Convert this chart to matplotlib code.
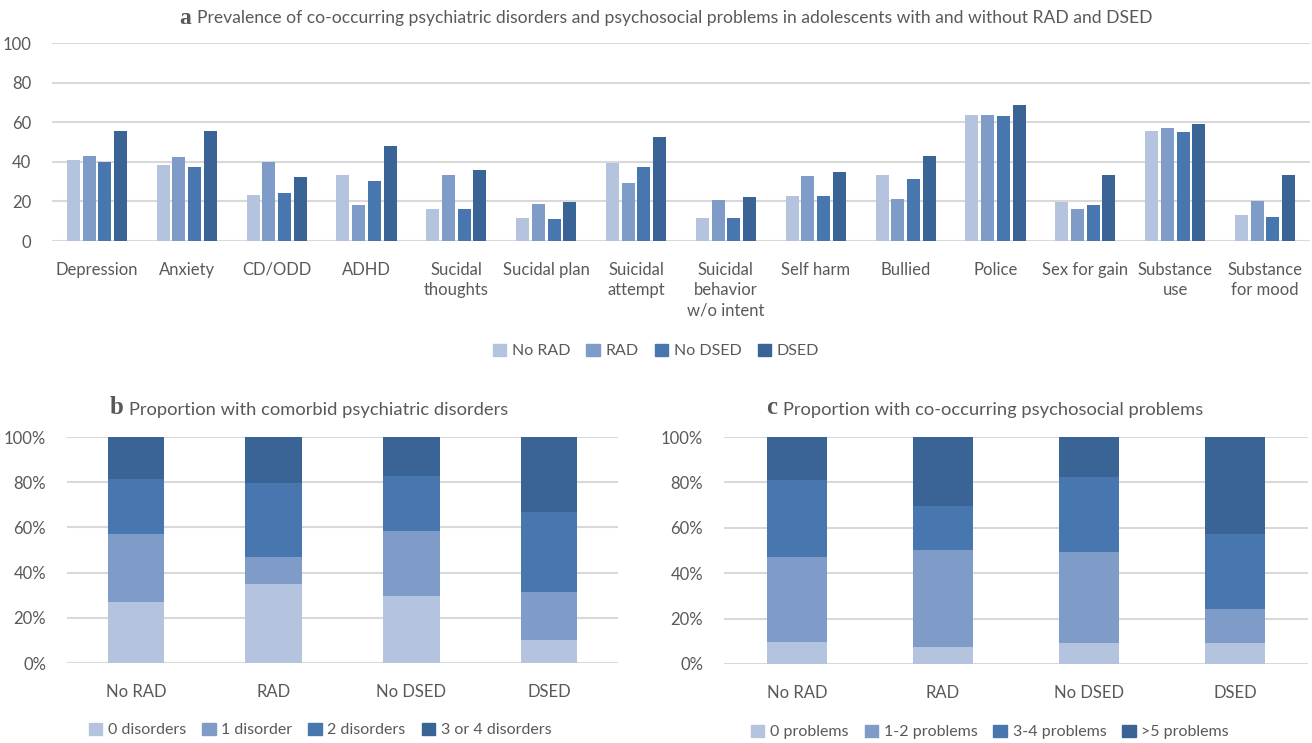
import numpy as np
import matplotlib
matplotlib.use("Agg")
import matplotlib.pyplot as plt
from matplotlib.patches import Patch
from matplotlib.offsetbox import TextArea, HPacker, AnchoredOffsetbox

plt.rcParams['font.family'] = ['Lato', 'DejaVu Sans']

# ---- data ----
groups = ['No RAD', 'RAD', 'No DSED', 'DSED']
colors = ['#B4C4DE', '#7F9CC8', '#4877B0', '#3B6496']

cats_a = ['Depression', 'Anxiety', 'CD/ODD', 'ADHD', 'Sucidal\nthoughts', 'Sucidal plan',
          'Suicidal\nattempt', 'Suicidal\nbehavior\nw/o intent', 'Self harm', 'Bullied',
          'Police', 'Sex for gain', 'Substance\nuse', 'Substance\nfor mood']
no_rad = [41.0, 38.4, 23.3, 33.4, 16.2, 11.6, 39.5, 11.6, 22.8, 33.4, 63.7, 19.7, 55.6, 13.2]
rad = [43.0, 42.5, 40.0, 18.2, 33.4, 18.7, 29.3, 20.7, 32.9, 21.2, 63.7, 16.2, 57.2, 20.2]
no_dsed = [40.0, 37.4, 24.3, 30.4, 16.2, 11.1, 37.4, 11.6, 22.8, 31.4, 63.2, 18.2, 55.1, 12.1]
dsed = [55.6, 55.6, 32.4, 48.1, 35.9, 19.7, 52.6, 22.3, 34.9, 43.0, 68.8, 33.4, 59.2, 33.4]

labels_b = ['0 disorders', '1 disorder', '2 disorders', '3 or 4 disorders']
disorders = [
    [26.9, 34.9, 29.5, 10.0],
    [30.1, 11.9, 28.8, 21.3],
    [24.4, 32.8, 24.4, 35.5],
    [18.6, 20.4, 17.3, 33.2],
]

labels_c = ['0 problems', '1-2 problems', '3-4 problems', '>5 problems']
problems = [
    [9.7, 7.5, 9.3, 9.3],
    [37.4, 42.7, 40.0, 14.9],
    [34.0, 19.4, 33.1, 33.1],
    [18.9, 30.4, 17.6, 42.7],
]

TXT = '#595959'
GRID = '#D9D9D9'

W, H = 1312, 743
fig = plt.figure(figsize=(W / 100, H / 100), dpi=100)


def px_axes(x0, y0, x1, y1):
    return fig.add_axes([x0 / W, 1 - y1 / H, (x1 - x0) / W, (y1 - y0) / H])


def style(ax):
    for s in ax.spines.values():
        s.set_visible(False)
    ax.set_axisbelow(True)
    ax.grid(axis='y', color=GRID, linewidth=1.5)
    ax.tick_params(length=0, colors=TXT, labelsize=12)


def panel_title(letter, text, cx, cy, size):
    box = HPacker(children=[
        TextArea(letter, textprops=dict(family='Liberation Serif', weight='bold',
                                        size=size * 1.35, color=TXT)),
        TextArea(text, textprops=dict(size=size, color=TXT)),
    ], align='baseline', pad=0, sep=4)
    ab = AnchoredOffsetbox(loc='center', child=box, frameon=False, pad=0,
                           bbox_to_anchor=(cx / W, 1 - cy / H),
                           bbox_transform=fig.transFigure)
    fig.add_artist(ab)


def legend(labels, cx, cy):
    fig.legend([Patch(color=c) for c in colors], labels, loc='center',
               bbox_to_anchor=(cx / W, 1 - cy / H), ncol=4, frameon=False,
               handlelength=0.85, handleheight=0.85, handletextpad=0.35,
               columnspacing=1.0, labelcolor=TXT, fontsize=11.5)


# ---- panel a ----
ax = px_axes(52, 43, 1310, 241)
style(ax)
x = np.arange(len(cats_a))
step, bw = 0.175, 0.145
for i, (vals, g) in enumerate(zip([no_rad, rad, no_dsed, dsed], groups)):
    ax.bar(x + (i - 1.5) * step, vals, bw, color=colors[i], label=g)
ax.set_xlim(-0.5, len(cats_a) - 0.5)
ax.set_ylim(0, 100)
ax.set_yticks(range(0, 101, 20))
ax.set_xticks(x)
ax.set_xticklabels(cats_a, va='top', linespacing=1.35)
ax.tick_params(axis='x', pad=15)
ax.tick_params(axis='y', pad=15)
panel_title('a', 'Prevalence of co-occurring psychiatric disorders and psychosocial problems in adolescents with and without RAD and DSED',
            666, 18, 12.6)
legend(groups, 656, 351)


def stacked(ax, data, labels):
    style(ax)
    xs = np.arange(len(groups))
    bottom = np.zeros(len(groups))
    for k, vals in enumerate(data):
        ax.bar(xs, vals, 0.41, bottom=bottom, color=colors[k], label=labels[k])
        bottom += np.array(vals)
    ax.set_xlim(-0.5, len(groups) - 0.5)
    ax.set_ylim(0, 100)
    ax.set_yticks(range(0, 101, 20))
    ax.set_yticklabels([f'{v}%' for v in range(0, 101, 20)])
    ax.set_xticks(xs)
    ax.set_xticklabels(groups)
    ax.tick_params(axis='x', pad=15)
    ax.tick_params(axis='y', pad=15)


axb = px_axes(67, 437, 618, 663)
stacked(axb, disorders, labels_b)
panel_title('b', 'Proportion with comorbid psychiatric disorders', 309, 408, 13.2)
legend(labels_b, 320, 730)

axc = px_axes(724, 437, 1308, 664)
stacked(axc, problems, labels_c)
panel_title('c', 'Proportion with co-occurring psychosocial problems', 985, 408, 13.2)
legend(labels_c, 990, 732)

fig.savefig('out.png', dpi=100)
